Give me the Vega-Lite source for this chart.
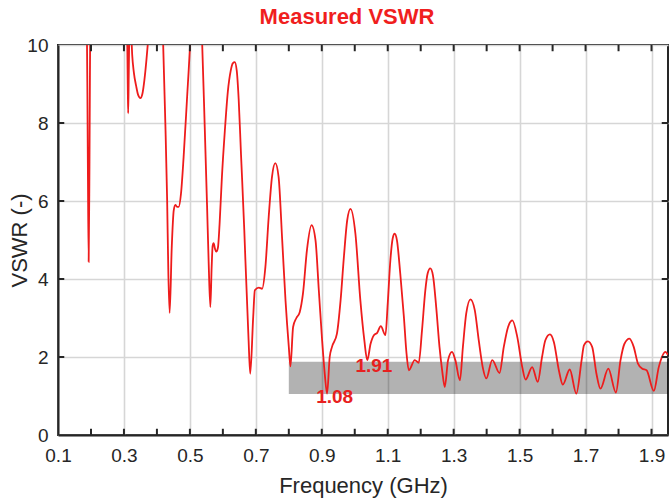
{
  "$schema": "https://vega.github.io/schema/vega-lite/v6.json",
  "width": 610,
  "height": 390,
  "autosize": {"type": "none"},
  "padding": {"left": 58, "top": 45, "right": 2, "bottom": 66},
  "title": {"text": "Measured VSWR", "color": "#f01e1e", "fontSize": 22, "fontWeight": "bold", "font": "Liberation Sans", "offset": 7, "dx": -16},
  "config": {
    "font": "Liberation Sans",
    "view": {"stroke": "#262626", "strokeWidth": 2},
    "axis": {
      "domainColor": "#262626", "domainWidth": 2,
      "gridColor": "#d6d6d6", "gridWidth": 1.6,
      "labelColor": "#262626", "labelFontSize": 19, "labelFont": "Liberation Sans",
      "titleColor": "#262626", "titleFontSize": 22, "titleFont": "Liberation Sans", "titleFontWeight": "normal"
    }
  },
  "datasets": {
    "vswr": [
      {"f":0.15,"v":15},{"f":0.186,"v":12},{"f":0.1905,"v":7},{"f":0.193,"v":4.44},{"f":0.1955,"v":7},{"f":0.199,"v":12},{"f":0.25,"v":16},
      {"f":0.305,"v":12},{"f":0.3095,"v":10.5},{"f":0.3115,"v":9},{"f":0.3128,"v":8.25},{"f":0.3145,"v":9.2},{"f":0.3165,"v":10.3},{"f":0.3195,"v":10.6},{"f":0.322,"v":10.3},
      {"f":0.325,"v":9.75},{"f":0.33,"v":9.3},{"f":0.337,"v":8.95},{"f":0.343,"v":8.72},{"f":0.35,"v":8.64},{"f":0.356,"v":8.75},{"f":0.362,"v":9.1},{"f":0.368,"v":9.6},{"f":0.373,"v":10.1},{"f":0.38,"v":11},
      {"f":0.40,"v":13},{"f":0.414,"v":11},{"f":0.419,"v":10},{"f":0.4256,"v":7.98},{"f":0.431,"v":6.02},{"f":0.4347,"v":4.14},{"f":0.4386,"v":3.13},
      {"f":0.445,"v":4.82},{"f":0.451,"v":5.76},{"f":0.456,"v":5.9},{"f":0.461,"v":5.85},{"f":0.466,"v":5.85},{"f":0.473,"v":6.19},{"f":0.481,"v":7.13},{"f":0.491,"v":8.58},{"f":0.501,"v":10.1},
      {"f":0.51,"v":12},{"f":0.525,"v":12},{"f":0.537,"v":10.1},{"f":0.545,"v":7.9},{"f":0.552,"v":5.9},{"f":0.557,"v":4.4},{"f":0.562,"v":3.28},
      {"f":0.566,"v":4.3},{"f":0.569,"v":4.85},{"f":0.572,"v":4.92},{"f":0.576,"v":4.78},{"f":0.58,"v":4.7},{"f":0.585,"v":4.8},{"f":0.59,"v":5.4},{"f":0.597,"v":6.6},{"f":0.606,"v":7.8},{"f":0.615,"v":8.8},{"f":0.624,"v":9.35},{"f":0.63,"v":9.53},{"f":0.636,"v":9.56},{"f":0.642,"v":9.35},{"f":0.648,"v":8.6},{"f":0.655,"v":7.2},{"f":0.665,"v":5.25},{"f":0.668,"v":4.56},{"f":0.678,"v":2.43},{"f":0.683,"v":1.57},
      {"f":0.692,"v":3.03},{"f":0.697,"v":3.71},{"f":0.709,"v":3.78},{"f":0.719,"v":3.75},{"f":0.729,"v":4.31},{"f":0.739,"v":5.59},{"f":0.749,"v":6.62},{"f":0.759,"v":6.97},{"f":0.769,"v":6.62},{"f":0.78,"v":4.99},{"f":0.79,"v":3.45},{"f":0.80,"v":2.26},{"f":0.805,"v":1.76},
      {"f":0.813,"v":2.77},{"f":0.823,"v":3.0},{"f":0.833,"v":3.15},{"f":0.843,"v":3.63},{"f":0.855,"v":4.74},{"f":0.869,"v":5.38},{"f":0.881,"v":4.99},{"f":0.891,"v":3.71},{"f":0.901,"v":2.43},{"f":0.909,"v":1.57},{"f":0.916,"v":1.06},
      {"f":0.924,"v":2.0},{"f":0.931,"v":2.26},{"f":0.946,"v":2.6},{"f":0.957,"v":3.45},{"f":0.967,"v":4.56},{"f":0.977,"v":5.5},{"f":0.987,"v":5.8},{"f":1.002,"v":5.16},{"f":1.017,"v":3.45},{"f":1.029,"v":2.43},{"f":1.038,"v":1.92},
      {"f":1.048,"v":2.34},{"f":1.058,"v":2.56},{"f":1.068,"v":2.62},{"f":1.079,"v":2.79},{"f":1.093,"v":2.56},{"f":1.1,"v":3.37},{"f":1.108,"v":4.48},{"f":1.115,"v":5.04},{"f":1.121,"v":5.16},{"f":1.128,"v":4.99},{"f":1.138,"v":4.14},{"f":1.149,"v":3.03},{"f":1.157,"v":2.09},{"f":1.164,"v":1.66},
      {"f":1.182,"v":1.92},{"f":1.194,"v":1.85},{"f":1.204,"v":2.69},{"f":1.214,"v":3.71},{"f":1.221,"v":4.14},{"f":1.229,"v":4.27},{"f":1.237,"v":4.1},{"f":1.247,"v":3.28},{"f":1.257,"v":2.26},{"f":1.265,"v":1.66},{"f":1.273,"v":1.23},
      {"f":1.283,"v":1.92},{"f":1.295,"v":2.13},{"f":1.305,"v":1.92},{"f":1.319,"v":1.40},{"f":1.328,"v":2.26},{"f":1.338,"v":3.11},{"f":1.351,"v":3.48},{"f":1.364,"v":3.2},{"f":1.376,"v":2.43},{"f":1.388,"v":1.74},{"f":1.399,"v":1.45},
      {"f":1.417,"v":1.92},{"f":1.439,"v":1.59},{"f":1.452,"v":2.26},{"f":1.465,"v":2.77},{"f":1.478,"v":2.94},{"f":1.493,"v":2.51},{"f":1.508,"v":1.74},{"f":1.518,"v":1.42},
      {"f":1.538,"v":1.74},{"f":1.555,"v":1.36},{"f":1.568,"v":2.0},{"f":1.578,"v":2.43},{"f":1.592,"v":2.58},{"f":1.604,"v":2.38},{"f":1.619,"v":1.66},{"f":1.631,"v":1.29},
      {"f":1.652,"v":1.68},{"f":1.672,"v":1.06},{"f":1.688,"v":1.92},{"f":1.695,"v":2.3},{"f":1.707,"v":2.40},{"f":1.72,"v":2.26},{"f":1.733,"v":1.57},{"f":1.745,"v":1.19},
      {"f":1.769,"v":1.70},{"f":1.792,"v":1.09},{"f":1.806,"v":1.92},{"f":1.818,"v":2.34},{"f":1.833,"v":2.47},{"f":1.846,"v":2.26},{"f":1.859,"v":1.83},{"f":1.872,"v":1.70},{"f":1.885,"v":1.66},{"f":1.907,"v":1.13},
      {"f":1.922,"v":1.74},{"f":1.942,"v":2.13},{"f":1.95,"v":2.05}
    ],
    "band": [{"f0": 0.8, "f1": 1.95, "v0": 1.05, "v1": 1.88}],
    "notes": [{"f": 1.058, "v": 1.76, "label": "1.91"}, {"f": 0.939, "v": 0.97, "label": "1.08"}],
    "xticks": [{"f":0.2},{"f":0.3},{"f":0.4},{"f":0.5},{"f":0.6},{"f":0.7},{"f":0.8},{"f":0.9},{"f":1.0},{"f":1.1},{"f":1.2},{"f":1.3},{"f":1.4},{"f":1.5},{"f":1.6},{"f":1.7},{"f":1.8},{"f":1.9}],
    "yticks": [{"v":2},{"v":4},{"v":6},{"v":8}]
  },
  "layer": [
    {
      "data": {"name": "band"},
      "mark": {"type": "rect", "fill": "#000000", "opacity": 0.3},
      "encoding": {
        "x": {"field": "f0", "type": "quantitative", "scale": {"domain": [0.1, 1.95], "nice": false, "zero": false},
              "title": "Frequency (GHz)",
              "axis": {"values": [0.1,0.2,0.3,0.4,0.5,0.6,0.7,0.8,0.9,1.0,1.1,1.2,1.3,1.4,1.5,1.6,1.7,1.8,1.9],
                       "labelExpr": "round(datum.value*10) % 2 == 1 ? format(datum.value, '.1f') : ''",
                       "ticks": false, "labelPadding": 11, "titlePadding": 10, "labelFlush": false}},
        "x2": {"field": "f1"},
        "y": {"field": "v0", "type": "quantitative", "scale": {"domain": [0, 10], "nice": false},
              "title": "VSWR (-)",
              "axis": {"values": [0,2,4,6,8,10], "ticks": false, "labelPadding": 10, "titlePadding": -5}},
        "y2": {"field": "v1"}
      }
    },
    {
      "data": {"name": "vswr"},
      "mark": {"type": "line", "color": "#ee1c1c", "strokeWidth": 1.8, "clip": true, "interpolate": "monotone"},
      "encoding": {
        "x": {"field": "f", "type": "quantitative"},
        "y": {"field": "v", "type": "quantitative"}
      }
    },
    {
      "data": {"name": "xticks"},
      "mark": {"type": "rule", "color": "#262626", "strokeWidth": 2},
      "encoding": {
        "x": {"field": "f", "type": "quantitative"},
        "y": {"datum": 0},
        "y2": {"datum": 0.16}
      }
    },
    {
      "data": {"name": "xticks"},
      "mark": {"type": "rule", "color": "#262626", "strokeWidth": 2},
      "encoding": {
        "x": {"field": "f", "type": "quantitative"},
        "y": {"datum": 10},
        "y2": {"datum": 9.84}
      }
    },
    {
      "data": {"name": "yticks"},
      "mark": {"type": "rule", "color": "#262626", "strokeWidth": 2},
      "encoding": {
        "y": {"field": "v", "type": "quantitative"},
        "x": {"datum": 0.1},
        "x2": {"datum": 0.119}
      }
    },
    {
      "data": {"name": "yticks"},
      "mark": {"type": "rule", "color": "#262626", "strokeWidth": 2},
      "encoding": {
        "y": {"field": "v", "type": "quantitative"},
        "x": {"datum": 1.95},
        "x2": {"datum": 1.931}
      }
    },
    {
      "data": {"name": "notes"},
      "mark": {"type": "text", "color": "#e82020", "fontSize": 19, "fontWeight": "bold", "font": "Liberation Sans", "align": "center", "baseline": "middle"},
      "encoding": {
        "x": {"field": "f", "type": "quantitative"},
        "y": {"field": "v", "type": "quantitative"},
        "text": {"field": "label"}
      }
    }
  ]
}
